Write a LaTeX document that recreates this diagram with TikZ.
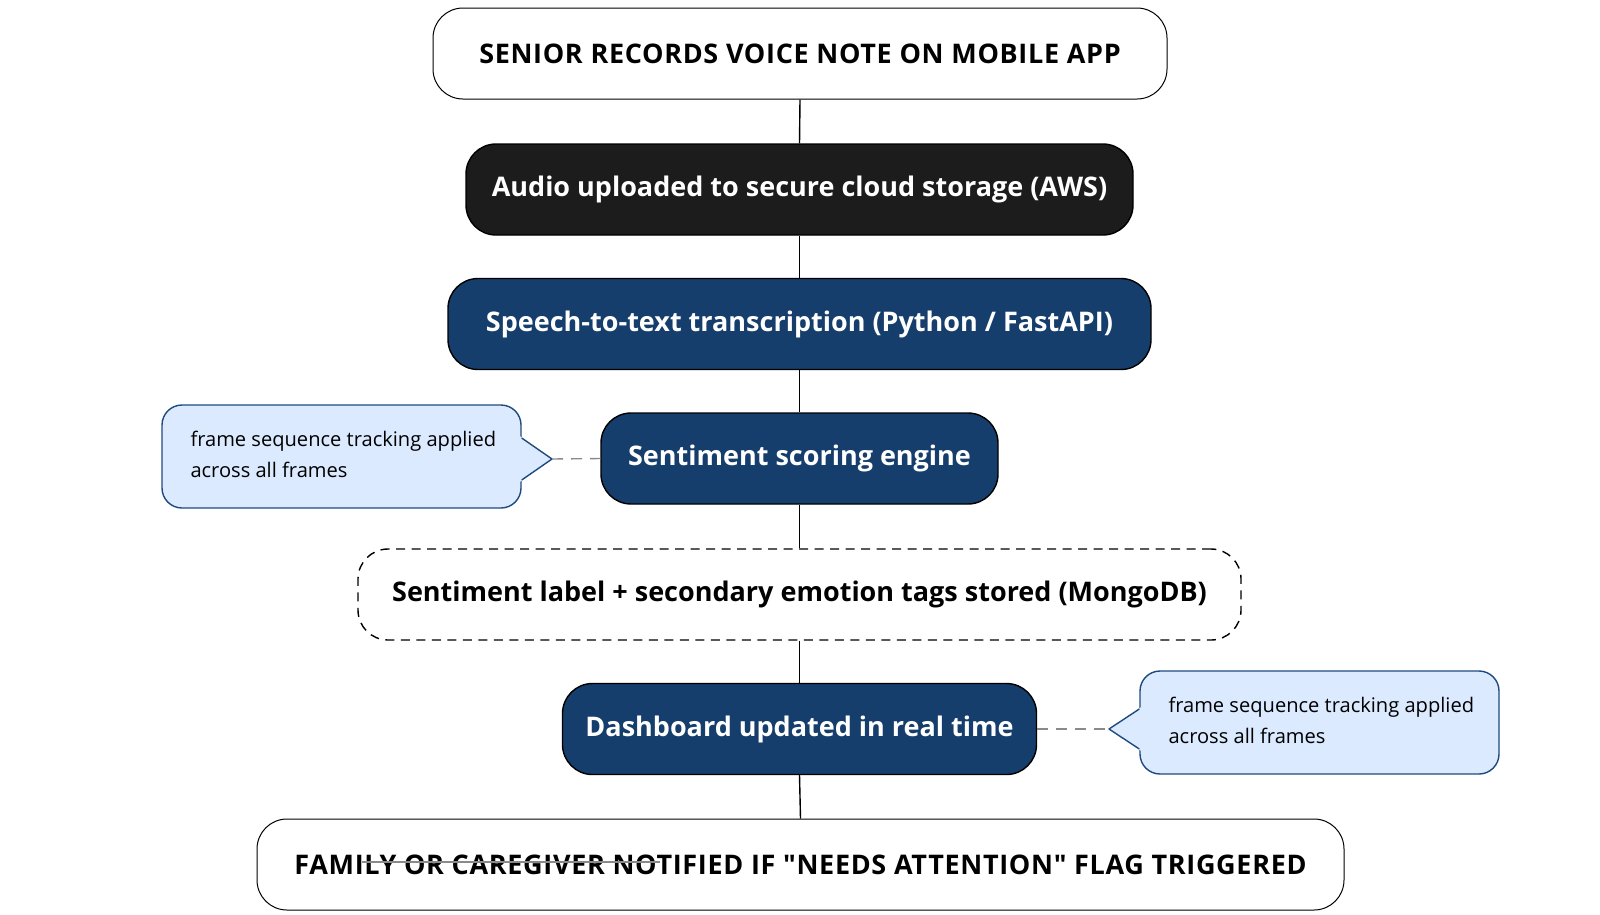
\documentclass[tikz,border=0pt]{standalone}
\usepackage{fontspec}
\setmainfont{Open Sans}[Ligatures=TeXOff]
\newfontfamily\capsfont{Open Sans}[Ligatures=TeXOff, LetterSpace=2.5]
\usetikzlibrary{calc}
\definecolor{navy}{HTML}{163E6C}
\definecolor{coal}{HTML}{1C1C1C}
\definecolor{callfill}{HTML}{DBEAFE}
\definecolor{callline}{HTML}{1E4A7E}
\definecolor{dashgray}{HTML}{8A8A8A}
\tikzset{
  basebox/.style={rounded corners=30pt, minimum height=91pt, align=center, font=\fontsize{27}{32}\selectfont\bfseries, inner sep=0pt},
  whitebox/.style={basebox, draw=black, line width=1pt, fill=white, text=black, font=\fontsize{27}{32}\selectfont\capsfont\bfseries},
  coalbox/.style={basebox, draw=black, line width=1.4pt, fill=coal, text=white},
  navybox/.style={basebox, draw=black, line width=1.4pt, fill=navy, text=white},
  dashbox/.style={basebox, draw=black, line width=1.4pt, dash pattern=on 9pt off 6.5pt, fill=white, text=black},
  callbox/.style={rounded corners=20pt, draw=callline, line width=1.4pt, fill=callfill, minimum height=103pt, minimum width=359pt, inner sep=0pt},
  calltext/.style={anchor=west, inner sep=0pt, align=left, font=\fontsize{20.1}{31.5}\selectfont},
  flow/.style={draw=black, line width=1.4pt},
  tie/.style={draw=dashgray, line width=1.4pt, dash pattern=on 11pt off 8pt},
}
\begin{document}
\begin{tikzpicture}[x=1pt,y=-1pt]
\useasboundingbox (0,0) rectangle (1600,914);
\node[whitebox, minimum width=734pt] (n1) at (800,53.5) {SENIOR RECORDS VOICE NOTE ON MOBILE APP};
\node[coalbox, minimum width=667pt] (n2) at (799.5,189.5) {Audio uploaded to secure cloud storage (AWS)};
\node[navybox, minimum width=703pt] (n3) at (799.5,324) {Speech-to-text transcription (Python / FastAPI)};
\node[navybox, minimum width=397pt] (n4) at (799.5,458.5) {Sentiment scoring engine};
\node[dashbox, minimum width=883pt] (n5) at (799.5,594.5) {Sentiment label + secondary emotion tags stored (MongoDB)};
\node[navybox, minimum width=474pt] (n6) at (799.5,729) {Dashboard updated in real time};
\node[whitebox, minimum width=1087pt] (n7) at (800.5,864.5) {FAMILY OR CAREGIVER NOTIFIED IF "NEEDS ATTENTION" FLAG TRIGGERED};
% connectors
\draw[flow] (n1.south) -- (n2.north);
\draw[flow] (n2.south) -- (n3.north);
\draw[flow] (n3.south) -- (n4.north);
\draw[flow] (n4.south) -- (n5.north);
\draw[flow] (n5.south) -- (n6.north);
\draw[flow] (n6.south) -- (n7.north);
% left callout
\node[callbox] (cl) at (341.5,456.5) {};
\coordinate (clTip) at (552,459);
\fill[callfill] ($(cl.east)+(-2,-20.5)$) -- (clTip) -- ($(cl.east)+(-2,25.5)$) -- cycle;
\draw[callline, line width=1.4pt, line join=round] ($(cl.east)+(0,-18.5)$) -- (clTip) -- ($(cl.east)+(0,23.5)$);
\node[calltext] (clt) at ($(cl.west)+(29,-2)$) {frame sequence tracking applied\\across all frames};
\draw[tie] (clTip) -- (n4.west);
% right callout
\node[callbox] (cr) at (1319.5,722.5) {};
\coordinate (crTip) at (1109,729);
\fill[callfill] ($(cr.west)+(2,-15.5)$) -- (crTip) -- ($(cr.west)+(2,28.5)$) -- cycle;
\draw[callline, line width=1.4pt, line join=round] ($(cr.west)+(0,-13.5)$) -- (crTip) -- ($(cr.west)+(0,26.5)$);
\node[calltext] (crt) at ($(cr.west)+(29,-2)$) {frame sequence tracking applied\\across all frames};
\draw[tie] (n6.east) -- (crTip);
% stray gray stroke across the bottom label
\coordinate (sA) at (362,862);
\coordinate (sB) at (660,862);
\draw[dashgray, line width=1.2pt] (sA) -- (sB);
\end{tikzpicture}
\end{document}
